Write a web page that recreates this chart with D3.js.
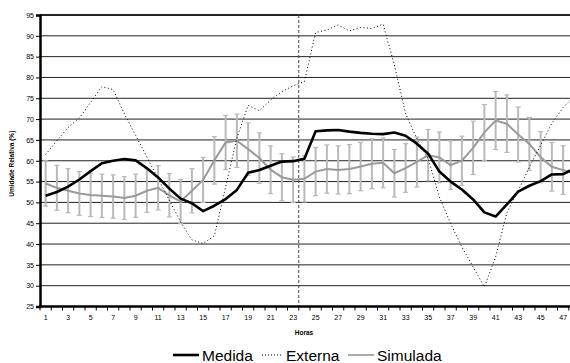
<!DOCTYPE html>
<head>
  <meta charset="utf-8">
  <script src="https://d3js.org/d3.v7.min.js"></script>
  <style>
    body { margin: 0; background: #fff; font-family: "Liberation Sans", Arial, sans-serif; }
    .tick text { font-family: "Liberation Sans", Arial, sans-serif; fill: #000; }
  </style>
</head>
<body>
  <svg id="chart" width="570" height="363"></svg>
  <script>
    // values (hour 48 sits just past the cropped right edge)
    const hours = [1,2,3,4,5,6,7,8,9,10,11,12,13,14,15,16,17,18,19,20,21,22,23,24,
                   25,26,27,28,29,30,31,32,33,34,35,36,37,38,39,40,41,42,43,44,45,46,47,48];
    const hourLabels = [1,3,5,7,9,11,13,15,17,19,21,23,25,27,29,31,33,35,37,39,41,43,45,47];
    const yTicks = [25,30,35,40,45,50,55,60,65,70,75,80,85,90,95];

    const medida = [51.6,52.5,53.8,55.5,57.5,59.4,60.0,60.4,60.1,58.2,56.0,53.3,50.9,49.8,47.9,49.2,
                    50.8,53.0,57.1,57.8,58.8,59.8,59.9,60.5,67.1,67.3,67.4,67.0,66.7,66.5,66.4,66.8,
                    66.0,64.1,61.7,57.4,55.0,53.1,50.7,47.6,46.6,49.5,52.6,54.0,55.1,56.7,56.8,58.1];
    const externa = [61.5,64.8,68.0,70.3,74.0,77.8,77.1,71.3,66.1,60.9,55.7,50.5,45.3,41.0,40.1,42.0,
                     53.7,65.5,73.3,72.0,74.6,76.6,78.0,79.0,90.8,91.4,92.6,91.2,92.0,91.8,92.8,83.0,
                     71.3,65.3,60.5,51.3,44.9,39.3,34.5,29.7,36.9,47.5,52.8,58.5,63.7,69.0,72.8,75.5];
    const simulada = [54.55,53.5,52.8,52.15,51.8,51.6,51.4,51.05,51.6,52.8,53.5,51.7,50.2,52.8,55.4,60.1,
                      64.4,64.8,62.8,60.65,57.85,56.05,55.45,55.65,57.4,58.0,57.8,58.0,58.6,59.3,59.5,57.0,
                      58.25,59.7,61.35,60.8,58.95,60.0,63.1,66.8,69.65,68.9,66.3,64.05,60.85,58.55,57.75,57.2];
    const simErro = [5.45,5.4,5.3,5.25,5.2,5.2,5.2,5.15,5.2,5.2,5.3,5.2,5.3,5.3,5.4,5.7,
                     6.5,6.4,6.3,6.05,5.75,5.65,5.45,5.55,5.8,5.8,5.8,5.9,5.8,6.0,6.0,5.7,
                     5.85,6.0,6.15,6.1,5.85,5.9,6.4,6.7,6.95,6.9,6.6,6.35,6.15,5.85,5.85,5.8];
    const divisa = 24; // dashed separator before this hour

    const svg = d3.select('#chart');
    const pLeft = 40, pRight = 580, pTop = 15, pBottom = 306.5;

    const x = d3.scaleBand().domain(hours).range([pLeft, pRight]);
    const cx = h => x(h) + x.bandwidth() / 2;
    const y = d3.scaleLinear().domain([25, 95]).range([pBottom, pTop]);

    // horizontal grid
    svg.append('g').selectAll('line').data(yTicks).enter().append('line')
      .attr('x1', pLeft).attr('x2', pRight)
      .attr('y1', d => y(d)).attr('y2', d => y(d))
      .attr('stroke', '#222')
      .attr('stroke-width', d => (d === 95 ? 2 : 1));

    // dashed separator
    svg.append('line')
      .attr('x1', x(divisa)).attr('x2', x(divisa))
      .attr('y1', y(95)).attr('y2', y(25))
      .attr('stroke', '#444').attr('stroke-width', 1)
      .attr('stroke-dasharray', '3,2');

    // y axis
    const yAxis = svg.append('g')
      .attr('transform', `translate(${pLeft},0)`)
      .call(d3.axisLeft(y).tickValues(yTicks).tickSize(4).tickPadding(2));
    yAxis.select('.domain').attr('stroke', '#000').attr('stroke-width', 2.5);
    yAxis.selectAll('.tick text').style('font-size', '7px');

    // x axis: labels on odd hours, ticks on band edges
    const xAxis = svg.append('g')
      .attr('transform', `translate(0,${pBottom})`)
      .call(d3.axisBottom(x).tickValues(hourLabels).tickSize(0).tickPadding(9));
    xAxis.select('.domain').remove();
    xAxis.selectAll('.tick text').style('font-size', '7px');
    svg.append('g').selectAll('line').data(hours).enter().append('line')
      .attr('x1', d => x(d)).attr('x2', d => x(d))
      .attr('y1', pBottom).attr('y2', pBottom + 4)
      .attr('stroke', '#000').attr('stroke-width', 1);
    svg.append('line')
      .attr('x1', pLeft - 1).attr('x2', pRight)
      .attr('y1', pBottom).attr('y2', pBottom)
      .attr('stroke', '#000').attr('stroke-width', 2.5);

    // error bars for Simulada
    const eb = svg.append('g').attr('stroke', '#b9b9b9');
    hours.forEach((h, i) => {
      const hi = y(simulada[i] + simErro[i]), lo = y(simulada[i] - simErro[i]);
      eb.append('line').attr('x1', cx(h)).attr('x2', cx(h)).attr('y1', hi).attr('y2', lo)
        .attr('stroke-width', 2);
      eb.append('line').attr('x1', cx(h) - 2.5).attr('x2', cx(h) + 2.5).attr('y1', hi).attr('y2', hi)
        .attr('stroke-width', 1.2);
      eb.append('line').attr('x1', cx(h) - 2.5).attr('x2', cx(h) + 2.5).attr('y1', lo).attr('y2', lo)
        .attr('stroke-width', 1.2);
    });

    const line = vals => d3.line().x((d, i) => cx(hours[i])).y(d => y(d))(vals);

    svg.append('path').attr('d', line(simulada))
      .attr('fill', 'none').attr('stroke', '#9a9a9a').attr('stroke-width', 2);
    svg.append('path').attr('d', line(externa))
      .attr('fill', 'none').attr('stroke', '#000').attr('stroke-width', 1)
      .attr('stroke-dasharray', '1,2.5');
    svg.append('path').attr('d', line(medida))
      .attr('fill', 'none').attr('stroke', '#000').attr('stroke-width', 2.6)
      .attr('stroke-linejoin', 'round');

    // axis titles
    svg.append('text')
      .attr('transform', `translate(14,${(pTop + pBottom) / 2 + 3}) rotate(-90)`)
      .attr('text-anchor', 'middle')
      .style('font-size', '6.5px').style('font-weight', 'bold')
      .text('Umidade Relativa (%)');
    svg.append('text')
      .attr('x', 304).attr('y', 335)
      .attr('text-anchor', 'middle')
      .style('font-size', '6.5px').style('font-weight', 'bold')
      .text('Horas');

    // legend
    const legend = [
      { name: 'Medida', x: 173, w: 26, stroke: '#000', sw: 2.6, dash: null },
      { name: 'Externa', x: 262, w: 21, stroke: '#000', sw: 1, dash: '1,2' },
      { name: 'Simulada', x: 348, w: 26, stroke: '#aaa', sw: 2, dash: null }
    ];
    const lg = svg.append('g').attr('transform', 'translate(0,355)');
    legend.forEach(d => {
      lg.append('line').attr('x1', d.x).attr('x2', d.x + d.w).attr('y1', 0).attr('y2', 0)
        .attr('stroke', d.stroke).attr('stroke-width', d.sw)
        .attr('stroke-dasharray', d.dash);
      lg.append('text').attr('x', d.x + d.w + 3).attr('y', 5.5)
        .style('font-size', '15.5px').text(d.name);
    });
  </script>
</body>
